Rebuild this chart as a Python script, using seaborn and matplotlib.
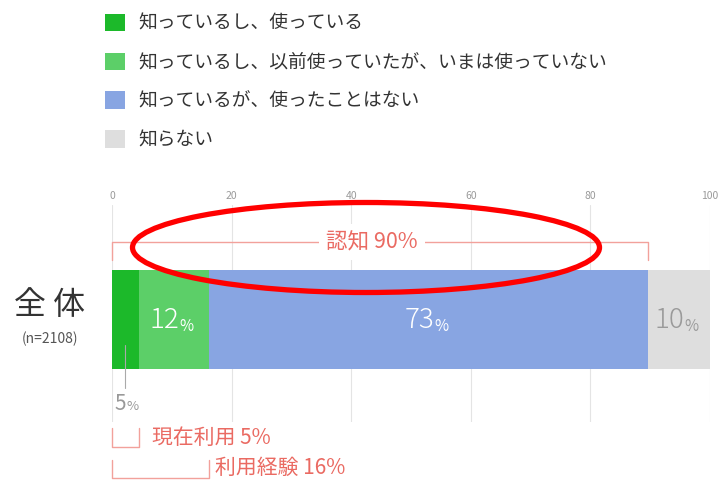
import pandas as pd
import matplotlib.pyplot as plt
import seaborn as sns
from matplotlib.patches import Patch, Ellipse
from matplotlib import transforms

# Data
group = ['全体']
segments = ['知っているし、使っている',
            '知っているし、以前使っていたが、いまは使っていない',
            '知っているが、使ったことはない',
            '知らない']
values = [4.5, 11.7, 73.4, 10.4]
value_labels = ['5', '12', '73', '10']
colors = ['#1cb92a', '#5ccf68', '#88a5e2', '#dedede']
ticks = [0, 20, 40, 60, 80, 100]

sns.set_theme(style='white')
plt.rcParams['font.family'] = ['Noto Sans CJK JP', 'DejaVu Sans']

df = pd.DataFrame({'group': group * len(segments), 'segment': segments, 'value': values})
df['cum'] = df['value'].cumsum()

fig = plt.figure(figsize=(7.21, 4.80), dpi=100)
ax = fig.add_axes([112 / 721, 1 - 422 / 480, 598 / 721, 217 / 480])

# stacked bar: draw cumulative totals, largest first
for seg, col in zip(segments[::-1], colors[::-1]):
    sub = df[df['segment'] == seg]
    sns.barplot(data=sub, x='cum', y='group', orient='h', color=col,
                saturation=1, width=0.8, ax=ax, linewidth=0, zorder=2)

ax.set_xlim(0, 100)
ax.set_ylim(0.828, -0.925)
ax.set_xticks(ticks)
ax.xaxis.tick_top()
ax.tick_params(axis='x', length=0, pad=3, labelsize=7.5, labelcolor='#9a9a9a')
ax.set_yticks([])
ax.set_xlabel('')
ax.set_ylabel('')
ax.grid(axis='x', color='#e4e4e4', lw=0.8, zorder=0)
ax.set_axisbelow(True)
for s in ax.spines.values():
    s.set_visible(False)

# value labels inside bars
starts = df['cum'] - df['value']
for i, (st, v, lab) in enumerate(zip(starts, values, value_labels)):
    if i == 0:
        continue
    c = 'white' if i < 3 else '#9a9a9a'
    xc = st + v / 2
    ax.annotate(lab, (xc, 0.0), xytext=(4, 0), textcoords='offset points',
                ha='right', va='center', fontsize=20, color=c, fontweight='light')
    ax.annotate('%', (xc, 0.06), xytext=(4, 0), textcoords='offset points',
                ha='left', va='center', fontsize=11, color=c)

bt = transforms.blended_transform_factory(ax.transData, fig.transFigure)
def fy(py):
    return 1 - py / 480

# small label for first segment
x5 = 2.2
ax.plot([x5, x5], [fy(345), fy(388)], transform=bt, color='#aaaaaa', lw=0.8,
        clip_on=False, zorder=5)
ax.text(0.4, fy(404), value_labels[0], transform=bt, fontsize=15,
        color='#999999', ha='left', va='center')
ax.text(2.45, fy(407), '%', transform=bt, fontsize=9.5,
        color='#999999', ha='left', va='center')

red = '#ea6a62'
line_red = '#f2a19b'
# 認知 bracket
aware = df['cum'].iloc[2]
ax.plot([0, 0, aware, aware], [fy(260), fy(242), fy(242), fy(260)],
        transform=bt, color=line_red, lw=1.0, clip_on=False, zorder=3)
ax.text(43.5, fy(242), '認知 90%', transform=bt, color=red, fontsize=15.5,
        ha='center', va='center', zorder=4,
        bbox=dict(facecolor='white', edgecolor='none', pad=5))

# 現在利用 bracket
cur = df['cum'].iloc[0]
ax.plot([0, 0, cur, cur], [fy(428), fy(447), fy(447), fy(428)],
        transform=bt, color=line_red, lw=1.0, clip_on=False)
ax.text(cur + 2.2, fy(438), '現在利用 5%', transform=bt, color=red,
        fontsize=15, ha='left', va='center')

# 利用経験 bracket
exp = df['cum'].iloc[1]
ax.plot([0, 0, exp, exp], [fy(460), fy(478), fy(478), fy(460)],
        transform=bt, color=line_red, lw=1.0, clip_on=False)
ax.text(exp + 1.1, fy(468), '利用経験 16%', transform=bt, color=red,
        fontsize=15, ha='left', va='center')

# row label
fig.text(50 / 721, fy(305), '全 体', fontsize=23, color='#333333',
         ha='center', va='center')
fig.text(50 / 721, fy(339), '(n=2108)', fontsize=10, color='#555555',
         ha='center', va='center')

# legend
handles = [Patch(facecolor=c, edgecolor='none') for c in colors]
fig.legend(handles, segments, loc='upper left',
           bbox_to_anchor=(105 / 721, fy(13)), frameon=False,
           borderpad=0, borderaxespad=0,
           fontsize=13.5, handlelength=1.07, handleheight=1.07,
           handletextpad=0.7, labelspacing=0.95, labelcolor='#333333')

# red ellipse highlight
fig.patches.append(Ellipse((366 / 721, fy(247.5)), 467 / 721, 90 / 480,
                           transform=fig.transFigure, fill=False,
                           edgecolor='#ff0000', lw=3.8, zorder=10))

fig.savefig('out.png', dpi=100)
